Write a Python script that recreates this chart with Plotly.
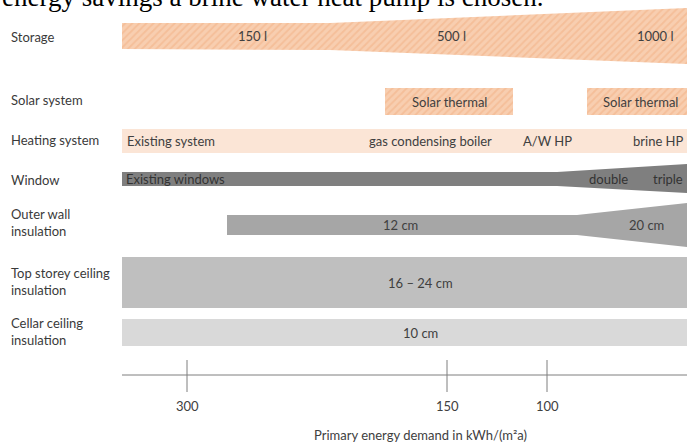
import plotly.graph_objects as go

# ---------------- data ----------------
row_labels = ["Storage", "Solar system", "Heating system", "Window",
              "Outer wall<br>insulation", "Top storey ceiling<br>insulation",
              "Cellar ceiling<br>insulation"]
row_label_y = [37, 100, 140, 180, 222, 281, 331]

# schematic energy axis (position along axis -> demand label)
tick_pos = [187, 447, 547]
tick_labels = ["300", "150", "100"]
axis_start, axis_end = 122, 687
axis_y = 375
axis_title = "Primary energy demand in kWh/(m²a)"

# tapering bands: outline along the axis (x), upper and lower edge (y)
storage_x = [122, 330, 687]
storage_top = [23, 23, 8]
storage_bot = [49, 50, 64]
storage_texts = ["150 l", "500 l", "1000 l"]
storage_text_x = [252, 451, 655]

solar_x0 = [385, 587]
solar_x1 = [513, 687]
solar_top, solar_bot = 88, 115
solar_texts = ["Solar thermal", "Solar thermal"]
solar_text_x = [449, 640]

heating_x = [122, 687]
heating_top, heating_bot = 129, 153
heating_texts = ["Existing system", "gas condensing boiler", "A/W HP", "brine HP"]
heating_text_x = [125, 430, 547, 686]
heating_text_anchor = ["left", "center", "center", "right"]

window_x = [122, 557, 687]
window_top = [172, 172, 164]
window_bot = [186, 186, 193]
window_texts = ["Existing windows", "double", "triple"]
window_text_x = [124, 608, 668]
window_text_anchor = ["left", "center", "center"]

wall_x = [227, 577, 687]
wall_top = [215, 215, 203]
wall_bot = [235, 235, 247]
wall_texts = ["12 cm", "20 cm"]
wall_text_x = [400, 646]

roof_x = [122, 687]
roof_top, roof_bot = 257, 308
roof_text = "16 – 24 cm"

cellar_x = [122, 687]
cellar_top, cellar_bot = 319, 346
cellar_text = "10 cm"

band_text_x_center = 420
header_text = "energy savings a brine water heat pump is chosen."

# ---------------- styles ----------------
FONT = "Lato"
TXT = "#404040"
hatch = dict(shape="/", bgcolor="#f8ceb0", fgcolor="#f1ae81", size=5, solidity=0.35)

fig = go.Figure()


def poly(xs, top, bot, color=None, pattern=None):
    px = list(xs) + list(xs)[::-1] + [xs[0]]
    py = list(top) + list(bot)[::-1] + [top[0]]
    kw = dict(x=px, y=py, fill="toself", mode="lines", line=dict(width=0),
              hoverinfo="skip", showlegend=False)
    if pattern:
        kw["fillcolor"] = pattern["bgcolor"]
        kw["fillpattern"] = pattern
    else:
        kw["fillcolor"] = color
    fig.add_trace(go.Scatter(**kw))


def rect(x0, x1, y0, y1, color=None, pattern=None):
    poly([x0, x1], [y0, y0], [y1, y1], color, pattern)


poly(storage_x, storage_top, storage_bot, pattern=hatch)
for a, b in zip(solar_x0, solar_x1):
    rect(a, b, solar_top, solar_bot, pattern=hatch)
rect(heating_x[0], heating_x[1], heating_top, heating_bot, color="#fbe5d6")
poly(window_x, window_top, window_bot, color="#7f7f7f")
poly(wall_x, wall_top, wall_bot, color="#a6a6a6")
rect(roof_x[0], roof_x[1], roof_top, roof_bot, color="#bfbfbf")
rect(cellar_x[0], cellar_x[1], cellar_top, cellar_bot, color="#d9d9d9")

# energy axis
fig.add_trace(go.Scatter(x=[axis_start, axis_end], y=[axis_y, axis_y], mode="lines",
                         line=dict(color="#7f7f7f", width=1), hoverinfo="skip",
                         showlegend=False))
for t in tick_pos:
    fig.add_trace(go.Scatter(x=[t, t], y=[axis_y - 15, axis_y + 17], mode="lines",
                             line=dict(color="#7f7f7f", width=1), hoverinfo="skip",
                             showlegend=False))

ann = []


def txt(x, y, s, anchor="center", size=13, color=TXT):
    ann.append(dict(x=x, y=y, xref="x", yref="y", text=s, showarrow=False,
                    xanchor=anchor, yanchor="middle", align=anchor,
                    font=dict(family=FONT, size=size, color=color)))


for lab, y in zip(row_labels, row_label_y):
    txt(9, y, lab, anchor="left", color="#3a3a3a")
for s, x in zip(storage_texts, storage_text_x):
    txt(x, 36, s)
for s, x in zip(solar_texts, solar_text_x):
    txt(x, (solar_top + solar_bot) / 2, s)
for s, x, a in zip(heating_texts, heating_text_x, heating_text_anchor):
    txt(x, (heating_top + heating_bot) / 2, s, anchor=a)
for s, x, a in zip(window_texts, window_text_x, window_text_anchor):
    txt(x, 179, s, anchor=a, color="#333333")
for s, x in zip(wall_texts, wall_text_x):
    txt(x, 225, s)
txt(band_text_x_center, (roof_top + roof_bot) / 2, roof_text)
txt(band_text_x_center, (cellar_top + cellar_bot) / 2, cellar_text)
for s, x in zip(tick_labels, tick_pos):
    txt(x, 406, s)
txt(band_text_x_center, 435, axis_title, size=13)

ann.append(dict(x=0, y=1, xref="paper", yref="paper", text=header_text,
                showarrow=False, xanchor="left", yanchor="bottom", yshift=-14,
                font=dict(family="Liberation Serif", size=27, color="black")))

fig.update_layout(
    width=687, height=443, margin=dict(l=0, r=0, t=0, b=0),
    paper_bgcolor="white", plot_bgcolor="white",
    xaxis=dict(range=[0, 687], visible=False, fixedrange=True),
    yaxis=dict(range=[443, 0], visible=False, fixedrange=True),
    annotations=ann, showlegend=False,
)

fig.write_html("out.html", config={"displayModeBar": False},
               post_script="document.body.style.margin='0';document.body.style.overflow='hidden';")
